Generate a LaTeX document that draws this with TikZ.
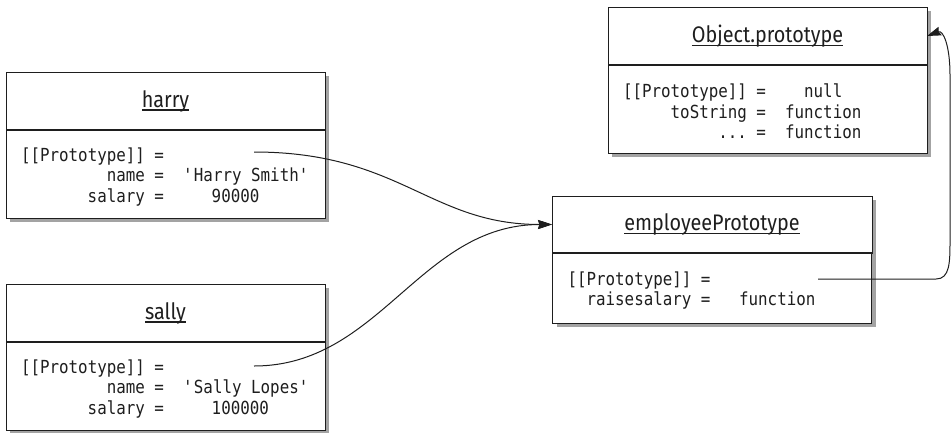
\documentclass[tikz,border=0pt]{standalone}
\usepackage{fontspec}
\newfontfamily\headfont{Fira Sans}[FakeStretch=0.88]
\newfontfamily\codefont{DejaVu Sans Mono}[FakeStretch=0.88]
\usetikzlibrary{arrows.meta,positioning,shadows}
\definecolor{ink}{HTML}{1E1E1E}
\definecolor{shade}{HTML}{A3A3A3}
\newcommand\sk[1]{\hspace*{\fpeval{#1*0.602*0.88}em}}
\newcommand\ul[1]{\setbox0\hbox{#1}\rlap{\rule[-3.5pt]{\wd0}{1.2pt}}\box0}
\tikzset{>={Stealth[length=14pt,width=9pt,inset=1.5pt]},
  hdr/.style={draw=ink,fill=white,line width=1pt,minimum width=319pt,minimum height=58pt,
    inner sep=0pt,outer sep=0pt,font=\headfont\fontsize{22.5}{26}\selectfont,text=ink,
    general shadow={fill=shade,shadow xshift=4pt,shadow yshift=-4pt}},
  bdy/.style={hdr,font=\codefont\fontsize{18}{20.5}\selectfont,align=left,
    text width=289pt,inner xsep=15pt,minimum height=88pt,below=0pt of #1,
    execute at begin node={\baselineskip=20.5pt\relax\rule{0pt}{19pt}}},
  divl/.style={ink,line width=2pt},
  ptr/.style={->,ink,line width=1pt}}
\begin{document}
\begin{tikzpicture}[x=1pt,y=-1pt]
\useasboundingbox (0,0) rectangle (952,432);
\node[hdr] (harryH) at (165.5,101) {\ul{harry}};
\node[bdy=harryH] (harryB) {[[Prototype]]\sk{1}=\\\sk{9}name\sk{1}=\sk{2}\textquotesingle Harry\sk{1}Smith\textquotesingle\\\sk{7}salary\sk{1}=\sk{5}90000};
\node[hdr] (sallyH) at (165.5,313) {\ul{sally}};
\node[bdy=sallyH] (sallyB) {[[Prototype]]\sk{1}=\\\sk{9}name\sk{1}=\sk{2}\textquotesingle Sally\sk{1}Lopes\textquotesingle\\\sk{7}salary\sk{1}=\sk{5}100000};
\node[hdr,minimum width=320pt,minimum height=57pt] (empH) at (712,224.5) {\ul{employeePrototype}};
\node[bdy=empH,minimum height=70pt] (empB) {[[Prototype]]\sk{1}=\\\sk{2}raisesalary\sk{1}=\sk{3}function};
\node[hdr] (objH) at (767.5,36) {\ul{Object.prototype}};
\node[bdy=objH] (objB) {[[Prototype]]\sk{1}=\sk{4}null\\\sk{5}toString\sk{1}=\sk{2}function\\\sk{10}...\sk{1}=\sk{2}function};
\foreach \b in {harryH,sallyH,empH,objH} \draw[divl] (\b.south west) -- (\b.south east);
\coordinate (hp) at (254,152);\coordinate (sp) at (254,366);\coordinate (ep) at (818,279);
\draw[ptr] (hp) .. controls (400,152) and (430,224.5) .. (empH.west);
\draw[ptr] (sp) .. controls (380,366) and (420,224.5) .. (empH.west);
\draw[ptr] (ep) -- (936,279) .. controls (950,279) and (950,262) .. (950,240) -- (950,75) .. controls (950,45) and (943,30) .. (objH.east);
\end{tikzpicture}
\end{document}
